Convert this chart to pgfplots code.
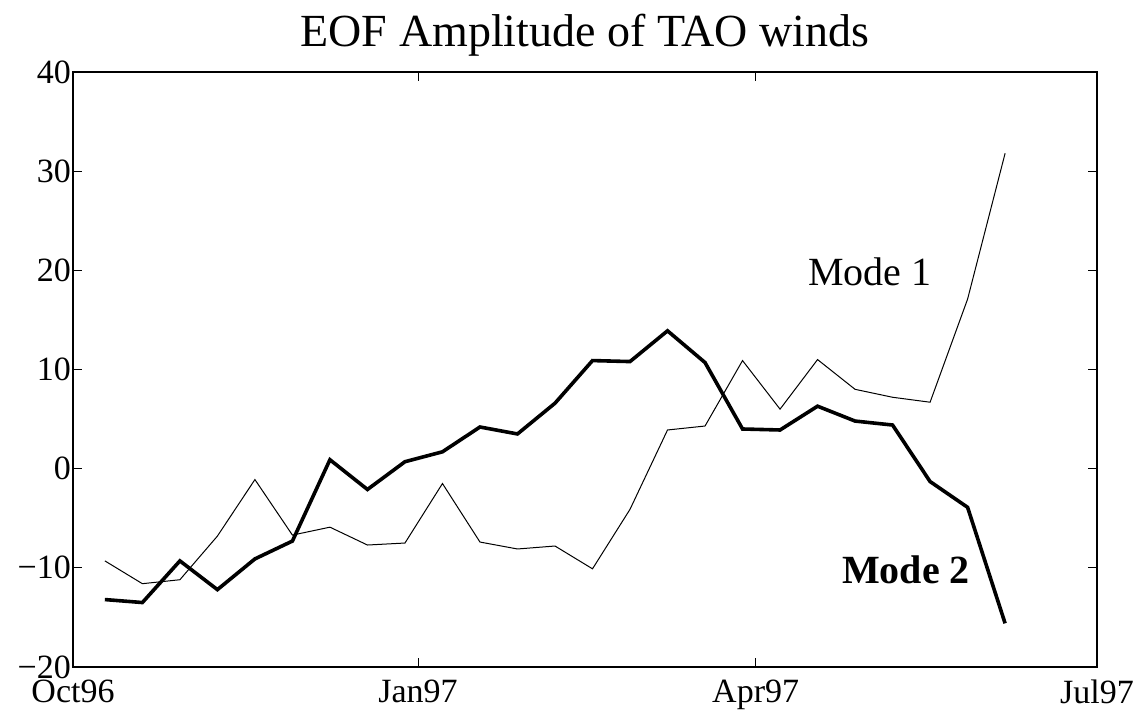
\documentclass[border=0pt]{standalone}
\usepackage{pgfplots}
\pgfplotsset{compat=1.18}
\usepackage{fontspec}
\setmainfont{Liberation Serif}
\begin{document}
\begin{tikzpicture}
\begin{axis}[
  scale only axis,
  width=1024pt, height=595pt,
  xmin=0, xmax=273, ymin=-20, ymax=40,
  xtick={0,92,182,273},
  xticklabels={Oct96,Jan97,Apr97,Jul97},
  ytick={-20,-10,0,10,20,30,40},
  yticklabels={−20,−10,0,10,20,30,40},
  tick align=inside,
  major tick length=9pt,
  tick style={line width=0.8pt, black},
  axis line style={line width=1.1pt},
  every tick label/.append style={font=\fontsize{34}{40}\selectfont},
  yticklabel style={xshift=-1pt, inner sep=1pt},
  xticklabel style={yshift=-12pt, inner sep=1pt},
  title={EOF Amplitude of TAO winds},
  title style={font=\fontsize{46}{54}\selectfont, yshift=6pt},
  clip=false,
]
\addplot[black, line width=1pt] coordinates {
(8.5,-9.3) (18.5,-11.6) (28.5,-11.2) (38.5,-6.8) (48.5,-1.1) (58.5,-6.7)
(68.5,-5.9) (78.5,-7.7) (88.5,-7.5) (98.5,-1.5) (108.5,-7.4) (118.5,-8.1)
(128.5,-7.8) (138.5,-10.1) (148.5,-4.1) (158.5,3.9) (168.5,4.3) (178.5,10.9)
(188.5,6.0) (198.5,11.0) (208.5,8.0) (218.5,7.2) (228.5,6.7) (238.5,17.1)
(248.5,31.8)
};
\addplot[black, line width=3.6pt] coordinates {
(8.5,-13.2) (18.5,-13.5) (28.5,-9.3) (38.5,-12.2) (48.5,-9.1) (58.5,-7.3)
(68.5,0.9) (78.5,-2.1) (88.5,0.7) (98.5,1.7) (108.5,4.2) (118.5,3.5)
(128.5,6.6) (138.5,10.9) (148.5,10.8) (158.5,13.9) (168.5,10.7) (178.5,4.0)
(188.5,3.9) (198.5,6.3) (208.5,4.8) (218.5,4.4) (228.5,-1.3) (238.5,-3.9)
(248.5,-15.6)
};
\node[font=\fontsize{40}{48}\selectfont] at (axis cs:212.5,19.9) {Mode 1};
\node[font=\fontsize{40}{48}\selectfont\bfseries] at (axis cs:222.1,-10.2) {Mode 2};
\end{axis}
\pgfresetboundingbox
\path ([shift={(-73pt,-52pt)}]current axis.south west) rectangle ([shift={(44pt,72pt)}]current axis.north east);
\end{tikzpicture}
\end{document}
